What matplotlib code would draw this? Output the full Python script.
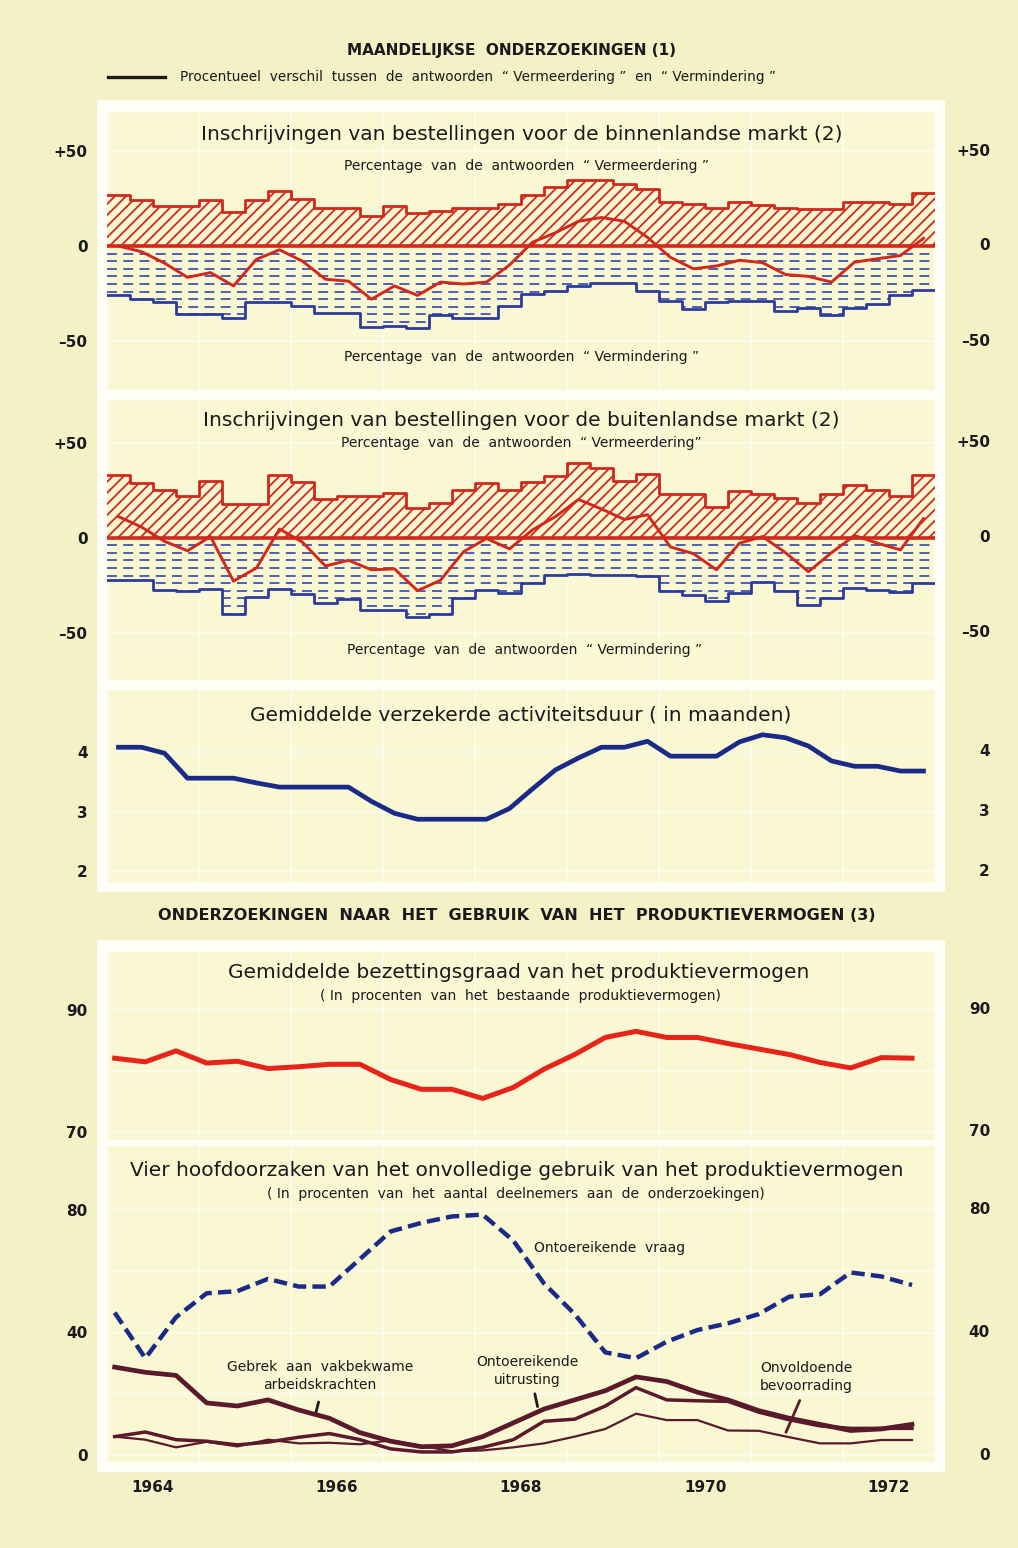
import numpy as np
import matplotlib
matplotlib.use("Agg")
import matplotlib.pyplot as plt
import matplotlib.transforms as mtransforms
from matplotlib.patches import Rectangle
from matplotlib.lines import Line2D

# ---------------- DATA ----------------
# quarterly surveys 1964-1972 (step edges) and their mid-quarter points
quarter_edges = np.arange(1964.0, 1973.001, 0.25)
quarter_mid = quarter_edges[:-1] + 0.125

# Panel 1: domestic market orders (% answers)
dom_up = [27, 24, 21, 21, 24, 18, 24, 29, 25, 20, 20, 16, 21, 17.5, 18.5, 20, 20, 22,
          27, 31, 35, 34.5, 32.5, 30, 23, 22, 20, 23, 21.5, 20, 19.5, 19.5, 23, 23, 22, 28]
dom_down = [-26, -28, -29.5, -36, -36, -38, -29.5, -29.5, -31.5, -35, -35, -42.5, -42, -43,
            -36.5, -38, -38, -31.5, -25, -23.5, -21, -19.5, -19.5, -23.5, -29, -33, -29.5,
            -29, -29, -34, -32.5, -36.5, -32.5, -30.5, -26, -23]
dom_bal = [0, -3, -9, -16.5, -14, -21, -7, -2, -8, -17.5, -18.5, -28, -21, -26, -19, -20,
           -19, -10, 2, 7, 13, 15, 13, 4.5, -6, -12, -10.5, -7.5, -8.8, -15, -16, -19,
           -8.5, -6.7, -5, 4]

# Panel 2: foreign market orders
exp_up = [33, 28.5, 25, 22, 29.5, 17.5, 17.5, 33, 29, 20.5, 22, 22, 23.5, 15.5, 18, 25,
          28.5, 25, 29, 32.5, 39, 36.5, 29.5, 33.5, 23, 23, 16, 24.5, 23, 21, 18, 23,
          27.5, 25, 22, 33]
exp_down = [-22.5, -22.5, -27.5, -28, -27, -40.5, -31.5, -27, -29.5, -34.5, -32.5, -38,
            -38, -42, -40.5, -32, -27.5, -29, -24, -19.5, -19, -19.5, -19.5, -20.5, -28,
            -30, -33.5, -29, -23.5, -28, -35.5, -32, -26.5, -27.5, -28.5, -24]
exp_bal = [11, 5.5, -2, -7, 0.5, -23, -16, 4.5, -2.5, -15, -12, -17, -16.5, -28, -22.5,
           -7.5, -0.5, -6, 4, 11, 20, 15, 9.5, 12, -5, -8.5, -17, -3, 0.5, -8, -18, -8,
           1, -3, -6.5, 10]

# Panel 3: assured production duration (months)
duration = [4.08, 4.08, 3.98, 3.56, 3.56, 3.56, 3.48, 3.41, 3.41, 3.41, 3.41, 3.17, 2.97,
            2.87, 2.87, 2.87, 2.87, 3.05, 3.38, 3.70, 3.90, 4.08, 4.08, 4.18, 3.93, 3.93,
            3.93, 4.17, 4.29, 4.24, 4.10, 3.85, 3.76, 3.76, 3.68, 3.68]

# capacity surveys, three per year
cap_dates = 1964 + (1 + 4 * np.arange(27)) / 12.0
utilisation = [82.1, 81.5, 83.3, 81.3, 81.6, 80.4, 80.7, 81.1, 81.1, 78.6, 77.0, 77.0, 75.5,
               77.3, 80.3, 82.7, 85.5, 86.5, 85.5, 85.5, 84.5, 83.6, 82.7, 81.4, 80.5, 82.2, 82.1]
demand = [46.5, 31.6, 45, 52.8, 53.5, 57.5, 55, 55, 64, 73, 75.8, 77.9, 78.5, 70, 56, 46,
          33.5, 31.6, 37, 40.8, 43, 46, 51.7, 52.5, 59.6, 58.3, 55.5]
labour = [28.7, 27, 26, 17, 16, 18, 14.7, 12, 7.3, 4.5, 2.7, 3, 6, 10.5, 15, 18, 21, 25.5,
          24, 20.5, 18, 14.5, 12, 10, 8, 8.5, 10]
equipment = [6, 7.5, 5, 4.5, 3.3, 4.2, 5.8, 7, 5, 2, 1, 1, 2.5, 5, 11, 11.7, 16, 22, 18,
             17.7, 17.5, 14, 11.5, 9.5, 8.7, 8.7, 8.7]
supply = [6, 5, 2.5, 4.3, 2.8, 5, 3.8, 4, 3.5, 4.8, 3, 1.2, 1.5, 2.5, 3.8, 6, 8.5, 13.5,
          11.4, 11.4, 8, 7.9, 5.8, 3.8, 3.8, 4.9, 4.9]

year_labels = ["1964", "1966", "1968", "1970", "1972"]
year_label_pos = [1964.5, 1966.5, 1968.5, 1970.5, 1972.5]

# ---------------- STYLE ----------------
PAGE = "#f4f1c6"
PANEL = "#f9f8d3"
FRAME = "#fefef6"
RED = "#d2281c"
RED2 = "#e8231a"
BLUE = "#2d3b9c"
BLUE_D = "#4152b4"
NAVY = "#1b2a86"
MAROON = "#5a1a2c"
INK = "#1a1a1a"

plt.rcParams["font.family"] = ["DejaVu Sans"]
plt.rcParams["hatch.linewidth"] = 1.3

W, H = 1018, 1548
fig = plt.figure(figsize=(W / 100, H / 100), dpi=100)
fig.patch.set_facecolor(PAGE)


def fx(x):
    return x / W


def fy(y):
    return 1 - y / H


def add_ax(x0, y0, x1, y1):
    ax = fig.add_axes([x0 / W, 1 - y1 / H, (x1 - x0) / W, (y1 - y0) / H])
    ax.set_facecolor(PANEL)
    for s in ax.spines.values():
        s.set_visible(False)
    ax.set_xlim(1964.0, 1973.0)
    ax.set_xticks(np.arange(1964, 1974))
    ax.set_xticklabels([])
    ax.tick_params(axis="x", length=0)
    ax.tick_params(axis="y", length=0, pad=14, labelsize=11, labelcolor=INK)
    ax.grid(True, color="white", lw=1.2, alpha=0.6)
    ax.set_axisbelow(True)
    return ax


def right_labels(ax, ticks, labels):
    tr = mtransforms.blended_transform_factory(fig.transFigure, ax.transData)
    for t, l in zip(ticks, labels):
        ax.text(fx(990), t, l, transform=tr, ha="right", va="center",
                fontsize=11, fontweight="bold", color=INK, clip_on=False)


def ftext(x, y, s, **kw):
    kw.setdefault("ha", "center")
    kw.setdefault("va", "center")
    kw.setdefault("color", INK)
    fig.text(fx(x), fy(y), s, **kw)


TITLE = dict(fontsize=14.5)
SUB = dict(fontsize=10)

# white frames (behind the axes)
for (x0, y0, x1, y1) in [(97, 100, 945, 892), (97, 940, 945, 1472)]:
    fig.patches.append(Rectangle((fx(x0), fy(y1)), (x1 - x0) / W, (y1 - y0) / H,
                                 transform=fig.transFigure, facecolor=FRAME,
                                 edgecolor="none", zorder=-5))

# header
ftext(512, 50, "MAANDELIJKSE  ONDERZOEKINGEN (1)", fontsize=11, fontweight="bold")
fig.lines.append(Line2D([fx(108), fx(165)], [fy(77), fy(77)], transform=fig.transFigure,
                        color=INK, lw=2.4))
ftext(180, 77, "Procentueel  verschil  tussen  de  antwoorden  \u201c Vermeerdering \u201d  en  \u201c Vermindering \u201d",
      fontsize=9.8, ha="left")


def order_panel(ax, up, down, bal):
    up_ext = list(up) + [up[-1]]
    dn_ext = list(down) + [down[-1]]
    ax.fill_between(quarter_edges, 0, up_ext, step="post", facecolor="none",
                    edgecolor=RED, hatch="///", linewidth=0, zorder=2)
    ax.step(quarter_edges, up_ext, where="post", color=RED, lw=2.0, zorder=3)
    lower = ax.fill_between(quarter_edges, 0, dn_ext, step="post", facecolor="none",
                            linewidth=0, zorder=2)
    clip_path = lower.get_paths()[0]
    for yv in np.arange(-4, -50, -4.0):
        ln = ax.axhline(yv, color=BLUE_D, lw=1.3, dashes=(5.5, 3.5), zorder=2)
        ln.set_clip_path(clip_path, ax.transData)
    ax.step(quarter_edges, dn_ext, where="post", color=BLUE, lw=2.0, zorder=3)
    ax.axhline(0, color=RED, lw=2.6, zorder=4)
    ax.plot(quarter_mid, bal, color=RED, lw=2.1, zorder=5)


# ---- Panel 1
ax1 = add_ax(107, 112, 935, 390)
ax1.set_ylim((246 - 390) / 1.9, (246 - 112) / 1.9)
ax1.set_yticks([50, 0, -50])
ax1.set_yticklabels(["+50", "0", "\u201350"], fontweight="bold")
right_labels(ax1, [50, 0, -50], ["+50", "0", "\u201350"])
order_panel(ax1, dom_up, dom_down, dom_bal)
ftext(522, 134, "Inschrijvingen van bestellingen voor de binnenlandse markt (2)", **TITLE)
ftext(527, 166, "Percentage  van  de  antwoorden  \u201c Vermeerdering \u201d", **SUB)
ftext(522, 357, "Percentage  van  de  antwoorden  \u201c Vermindering \u201d", **SUB)

# ---- Panel 2
ax2 = add_ax(107, 400, 935, 680)
ax2.set_ylim((537.5 - 680) / 1.9, (537.5 - 400) / 1.9)
ax2.set_yticks([50, 0, -50])
ax2.set_yticklabels(["+50", "0", "\u201350"], fontweight="bold")
right_labels(ax2, [50, 0, -50], ["+50", "0", "\u201350"])
order_panel(ax2, exp_up, exp_down, exp_bal)
ftext(521, 420, "Inschrijvingen van bestellingen voor de buitenlandse markt (2)", **TITLE)
ftext(521, 443, "Percentage  van  de  antwoorden  \u201c Vermeerdering\u201d", **SUB)
ftext(525, 650, "Percentage  van  de  antwoorden  \u201c Vermindering \u201d", **SUB)

# ---- Panel 3
ax3 = add_ax(107, 690, 935, 882)
ax3.set_ylim(4 - (882 - 752) / 59.5, 4 + (752 - 690) / 59.5)
ax3.set_yticks([4, 3, 2])
ax3.set_yticklabels(["4", "3", "2"], fontweight="bold")
right_labels(ax3, [4, 3, 2], ["4", "3", "2"])
ax3.plot(quarter_mid, duration, color=NAVY, lw=3.4, solid_joinstyle="round", zorder=3)
ftext(521, 715, "Gemiddelde verzekerde activiteitsduur ( in maanden)", **TITLE)

# middle header
ftext(517, 916, "ONDERZOEKINGEN  NAAR  HET  GEBRUIK  VAN  HET  PRODUKTIEVERMOGEN (3)",
      fontsize=11.6, fontweight="bold")

# ---- Panel 4
ax4 = add_ax(107, 952, 935, 1140)
ax4.set_ylim(70 - (1140 - 1132) / 6.1, 90 + (1010 - 952) / 6.1)
ax4.set_yticks([70, 80, 90])
ax4.set_yticklabels(["70", "", "90"], fontweight="bold")
right_labels(ax4, [90, 70], ["90", "70"])
ax4.plot(cap_dates, utilisation, color=RED2, lw=3.6, solid_joinstyle="round", zorder=3)
ftext(519, 972, "Gemiddelde bezettingsgraad van het produktievermogen", **TITLE)
ftext(520, 996, "( In  procenten  van  het  bestaande  produktievermogen)", **SUB)

# ---- Panel 5
ax5 = add_ax(107, 1146, 935, 1462)
ax5.set_ylim(-(1462 - 1455) / 3.0625, 80 + (1210 - 1146) / 3.0625)
ax5.set_yticks([0, 20, 40, 60, 80])
ax5.set_yticklabels(["0", "", "40", "", "80"], fontweight="bold")
right_labels(ax5, [80, 40, 0], ["80", "40", "0"])
ax5.plot(cap_dates, demand, color=NAVY, lw=3.2, dashes=(3.0, 1.4), zorder=3)
ax5.plot(cap_dates, supply, color=MAROON, lw=1.6, zorder=3)
ax5.plot(cap_dates, equipment, color=MAROON, lw=2.5, zorder=3)
ax5.plot(cap_dates, labour, color=MAROON, lw=3.4, zorder=4)
ax5.set_xticks(year_label_pos, minor=True)
ax5.set_xticklabels(year_labels, minor=True, fontsize=11, fontweight="bold")
ax5.tick_params(axis="x", which="minor", length=0, pad=13, labelcolor=INK)

ftext(517, 1170, "Vier hoofdoorzaken van het onvolledige gebruik van het produktievermogen",
      **TITLE)
ftext(516, 1194, "( In  procenten  van  het  aantal  deelnemers  aan  de  onderzoekingen)",
      **SUB)
ftext(534, 1248, "Ontoereikende  vraag", fontsize=10, ha="left")
ftext(320, 1376, "Gebrek  aan  vakbekwame\narbeidskrachten", fontsize=10, linespacing=1.35)
ftext(527, 1371, "Ontoereikende\nuitrusting", fontsize=10, linespacing=1.35)
ftext(806, 1377, "Onvoldoende\nbevoorrading", fontsize=10, linespacing=1.35)

pointer = dict(arrowstyle="-", color=INK, lw=2.0, shrinkA=0, shrinkB=0)
ax5.annotate("", xy=(1966.27, 13.8), xytext=(1966.30, 17.3), arrowprops=pointer)
ax5.annotate("", xy=(1968.68, 15.8), xytext=(1968.65, 20.0), arrowprops=pointer)
pointer2 = dict(pointer, color=MAROON)
ax5.annotate("", xy=(1971.38, 7.4), xytext=(1971.53, 17.8), arrowprops=pointer2)

fig.savefig("out.png", dpi=100, facecolor=PAGE)
